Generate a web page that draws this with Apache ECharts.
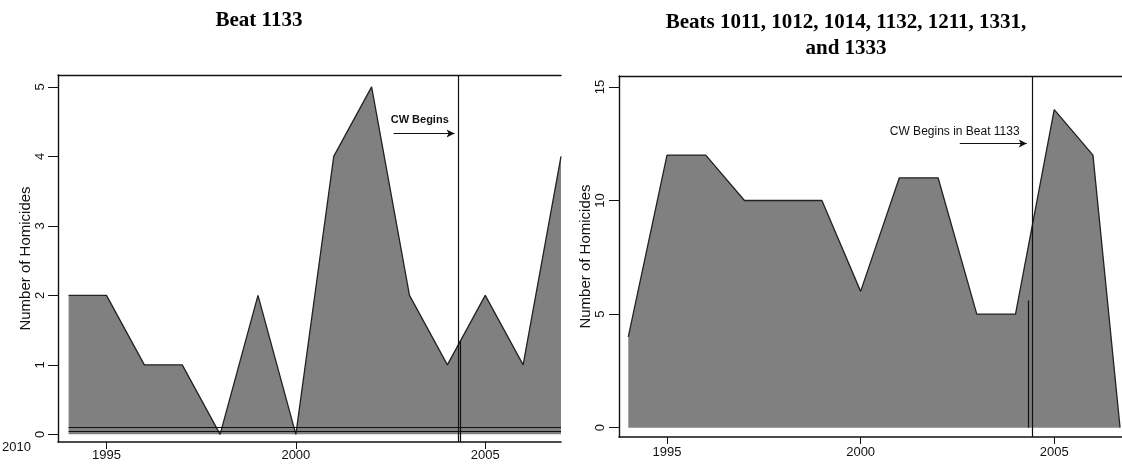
<!DOCTYPE html>
<html><head><meta charset="utf-8">
<script src="https://cdn.jsdelivr.net/npm/echarts@6.0.0/dist/echarts.min.js"></script>
<style>html,body{margin:0;padding:0;background:#fff}#c{width:1122px;height:467px}</style>
</head><body><div id="c"></div><script>
// Beat 1133
const yearsA = [1994,1995,1996,1997,1998,1999,2000,2001,2002,2003,2004,2005,2006,2007];
const homicidesA = [2,2,1,1,0,2,0,4,5,2,1,2,1,4];
// Beats 1011, 1012, 1014, 1132, 1211, 1331, and 1333 (last point: partial 2006 year, as drawn)
const yearsB = [1994,1995,1996,1997,1998,1999,2000,2001,2002,2003,2004,2005,2006,2006.7];
const homicidesB = [4,12,12,10,10,10,6,11,11,5,5,14,12,0];
const xTicks = [1995,2000,2005];
const yTicksA = [0,1,2,3,4,5];
const yTicksB = [0,5,10,15];
const cwStartA = 2004.28;
const cwStartB = 2004.42;
const titleA = 'Beat 1133';
const titleB = 'Beats 1011, 1012, 1014, 1132, 1211, 1331,\nand 1333';
const yName = 'Number of Homicides';
const cwLabelA = 'CW Begins';
const cwLabelB = 'CW Begins in Beat 1133';

const INK = '#111';
const FILL = '#808080';
const sans = 'Liberation Sans, Arial, sans-serif';
const serif = 'Liberation Serif, Times New Roman, serif';
const plain = v => String(v);

function xAxes(grid, min, max, margin) {
  return [{
    gridIndex: grid, type: 'value', min: min, max: max, position: 'bottom',
    axisLine: {show: true, onZero: false, lineStyle: {color: INK, width: 1.6}},
    axisTick: {show: true, length: 7, customValues: xTicks, lineStyle: {color: INK}},
    axisLabel: {customValues: xTicks, formatter: plain, fontSize: 13, margin: margin, color: INK, fontFamily: sans},
    splitLine: {show: false}
  }, {
    gridIndex: grid, type: 'value', min: min, max: max, position: 'top',
    axisLine: {show: true, onZero: false, lineStyle: {color: INK, width: 1.3}},
    axisTick: {show: false}, axisLabel: {show: false}, splitLine: {show: false}
  }];
}
function yAxis(grid, min, max, ticks, gap, margin) {
  return {
    gridIndex: grid, type: 'value', min: min, max: max,
    name: yName, nameLocation: 'middle', nameGap: gap,
    nameTextStyle: {fontSize: 15, color: INK, fontFamily: sans},
    axisLine: {show: true, onZero: false, lineStyle: {color: INK, width: 1.4}},
    axisTick: {show: true, length: 10, customValues: ticks, lineStyle: {color: INK}},
    axisLabel: {rotate: 90, customValues: ticks, formatter: plain, fontSize: 13, margin: margin, color: INK, fontFamily: sans},
    splitLine: {show: false}
  };
}
function pairs(xs, ys) { return xs.map((x, i) => [x, ys[i]]); }

const option = {
  animation: false,
  backgroundColor: '#fff',
  title: [
    {text: titleA, left: 254, top: 5, textAlign: 'center',
     textStyle: {fontFamily: serif, fontWeight: 'bold', fontSize: 21, color: '#000'}},
    {text: titleB, left: 841, top: 5, textAlign: 'center',
     textStyle: {fontFamily: serif, fontWeight: 'bold', fontSize: 21, color: '#000', lineHeight: 26}}
  ],
  grid: [
    {left: 58, top: 75, width: 503, height: 367},
    {left: 619, top: 76, width: 503, height: 361}
  ],
  xAxis: [...xAxes(0, 1993.72, 2007, 7), ...xAxes(1, 1993.76, 2006.75, 9)],
  yAxis: [yAxis(0, -0.11, 5.17, yTicksA, 24, 11), yAxis(1, -0.41, 15.48, yTicksB, 25, 12)],
  graphic: [
    {type: 'text', left: 2, top: 441, style: {text: '2010', fill: INK, font: '13px Liberation Sans'}}
  ],
  series: [
    {
      type: 'line', xAxisIndex: 0, yAxisIndex: 0, data: pairs(yearsA, homicidesA),
      symbol: 'none', lineStyle: {color: '#222', width: 1.3}, areaStyle: {color: FILL, opacity: 1},
      markLine: {
        silent: true, symbol: ['none', 'none'], label: {show: false},
        lineStyle: {color: INK, width: 1.2, type: 'solid'},
        data: [
          [{coord: [1994, 0.105]}, {coord: [2007, 0.105]}],
          [{coord: [1994, 0.047]}, {coord: [2007, 0.047]}],
          [{coord: [cwStartA, -0.11]}, {coord: [cwStartA, 5.17]}],
          [{coord: [cwStartA + 0.06, -0.11]}, {coord: [cwStartA + 0.06, 1.35]}],
          [{coord: [2002.58, 4.33]}, {coord: [2004.19, 4.33], symbol: 'arrow', symbolSize: [6, 8]}]
        ]
      },
      markPoint: {
        silent: true, symbolSize: 0,
        data: [{coord: [2003.27, 4.52], label: {show: true, formatter: cwLabelA, position: 'inside', fontSize: 11, fontWeight: 'bold', color: INK, fontFamily: sans}}]
      }
    },
    {
      type: 'line', xAxisIndex: 2, yAxisIndex: 1, data: pairs(yearsB, homicidesB),
      symbol: 'none', lineStyle: {color: '#222', width: 1.3}, areaStyle: {color: FILL, opacity: 1},
      markLine: {
        silent: true, symbol: ['none', 'none'], label: {show: false},
        lineStyle: {color: INK, width: 1.2, type: 'solid'},
        data: [
          [{coord: [cwStartB, -0.41]}, {coord: [cwStartB, 15.48]}],
          [{coord: [cwStartB - 0.09, 0]}, {coord: [cwStartB - 0.09, 5.6]}],
          [{coord: [2002.56, 12.51]}, {coord: [2004.29, 12.51], symbol: 'arrow', symbolSize: [6, 8]}]
        ]
      },
      markPoint: {
        silent: true, symbolSize: 0,
        data: [{coord: [2002.43, 13.02], label: {show: true, formatter: cwLabelB, position: 'inside', fontSize: 12, color: INK, fontFamily: sans}}]
      }
    }
  ]
};
const chart = echarts.init(document.getElementById('c'), null, {renderer: 'canvas'});
chart.setOption(option);
</script></body></html>
